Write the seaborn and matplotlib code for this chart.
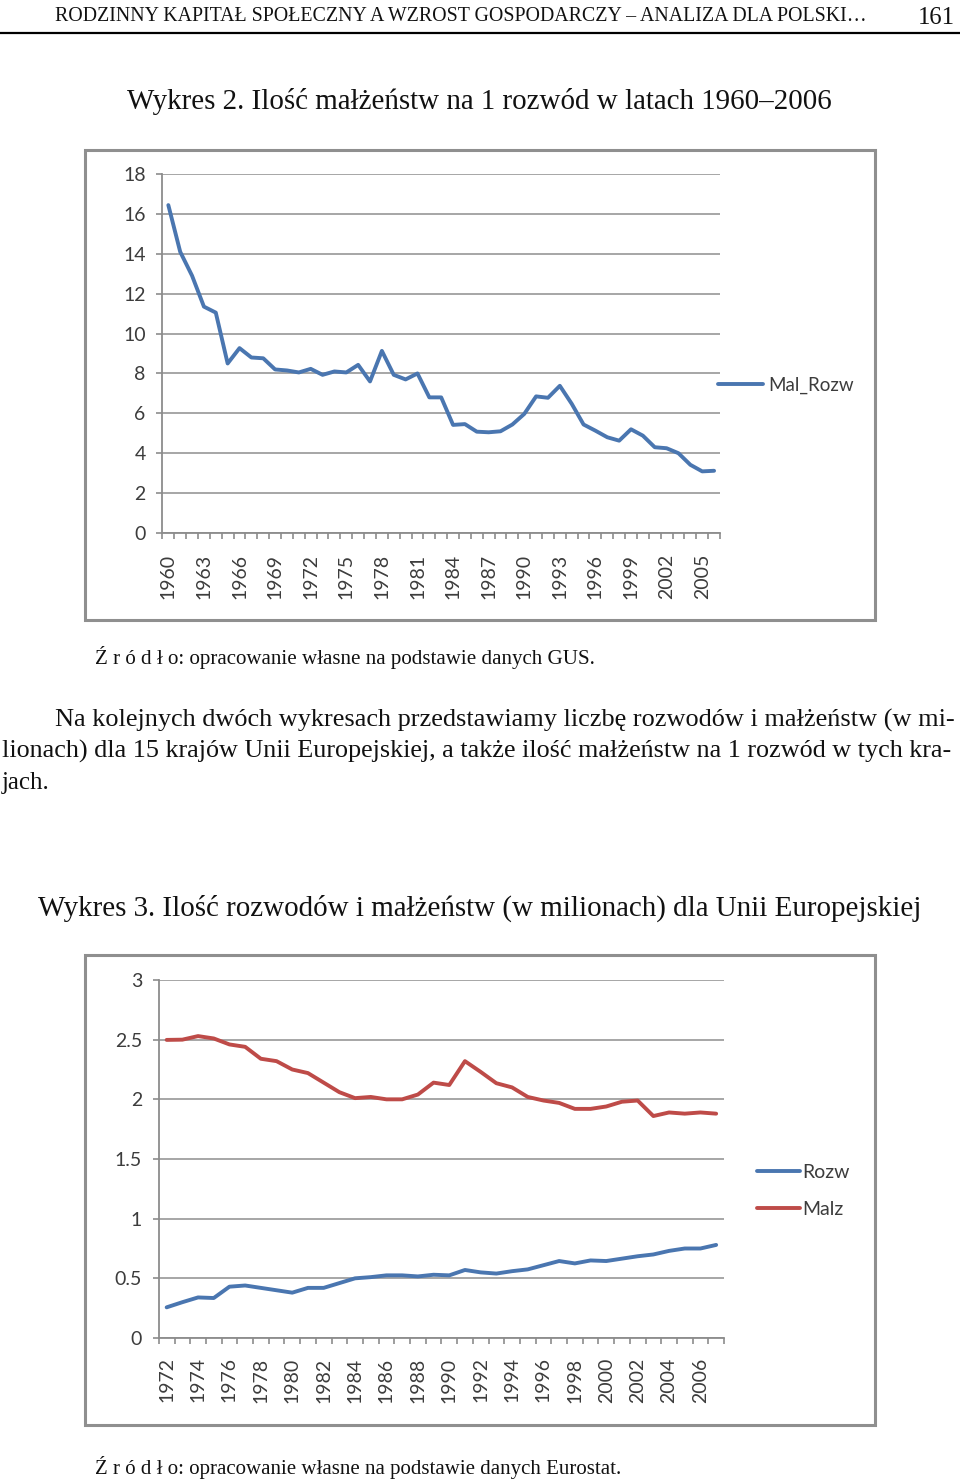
import numpy as np
import pandas as pd
import seaborn as sns
import matplotlib.pyplot as plt
from matplotlib.patches import Rectangle
from matplotlib.lines import Line2D

# Wykres 2 - malzenstwa na 1 rozwod, 1960-2006
lata1 = list(range(1960, 2007))
mal_rozw = [16.44, 14.1, 12.9, 11.35, 11.05, 8.5, 9.27, 8.8, 8.76, 8.2,
            8.15, 8.05, 8.23, 7.93, 8.1, 8.05, 8.43, 7.6, 9.13, 7.93,
            7.7, 8.0, 6.8, 6.8, 5.42, 5.46, 5.08, 5.05, 5.1, 5.44,
            5.97, 6.85, 6.78, 7.38, 6.48, 5.44, 5.13, 4.8, 4.63, 5.2,
            4.88, 4.3, 4.25, 4.0, 3.42, 3.09, 3.12]

# Wykres 3 - rozwody i malzenstwa (mln) UE, 1972-2007
lata2 = list(range(1972, 2008))
rozw = [0.257, 0.30, 0.34, 0.335, 0.43, 0.44, 0.42, 0.40, 0.38, 0.42,
        0.42, 0.46, 0.50, 0.51, 0.525, 0.525, 0.516, 0.53, 0.525, 0.57,
        0.55, 0.54, 0.56, 0.575, 0.61, 0.645, 0.625, 0.65, 0.645, 0.665,
        0.685, 0.70, 0.73, 0.75, 0.75, 0.78]
malz = [2.498, 2.50, 2.53, 2.51, 2.46, 2.44, 2.34, 2.32, 2.25, 2.22,
        2.14, 2.06, 2.01, 2.02, 2.0, 2.0, 2.04, 2.14, 2.12, 2.32,
        2.23, 2.135, 2.10, 2.02, 1.99, 1.97, 1.92, 1.92, 1.94, 1.98,
        1.99, 1.86, 1.89, 1.88, 1.89, 1.88]

sns.set_style("white")
plt.rcParams['font.family'] = ['Lato', 'DejaVu Sans']

W, H = 960, 1480
fig = plt.figure(figsize=(W / 100, H / 100), dpi=100)

BLUE = "#4a76b0"
RED = "#be4b48"
GRID = "#a6a6a6"
TXT = "#3c3c3c"
SERIF = ['Liberation Serif', 'DejaVu Serif']


def fx(px):
    return px / W


def fy(py):
    return 1 - py / H


def ptext(x, y, s, size, ha="left", width=None):
    t = fig.text(fx(x), fy(y), s, fontsize=size, family=SERIF, ha=ha,
                 va="baseline", color="#111111")
    if width is not None:
        r = fig.canvas.get_renderer()
        w = t.get_window_extent(renderer=r).width
        t.set_fontsize(size * width / w)
    return t


def style_axes(ax, ylim, yticks, ylabels, xlo, xhi, xlabels, xpad):
    ax.set_ylim(*ylim)
    ax.set_xlim(xlo - 0.5, xhi + 0.5)
    ax.set_yticks(yticks)
    ax.set_yticklabels(ylabels)
    ax.set_xticks(xlabels)
    ax.set_xticklabels([str(v) for v in xlabels], rotation=90)
    ax.set_xticks(np.arange(xlo - 0.5, xhi + 1.0, 1.0), minor=True)
    ax.grid(axis="y", color=GRID, lw=1.4)
    ax.grid(axis="x", visible=False)
    ax.set_axisbelow(True)
    for s in ["top", "right"]:
        ax.spines[s].set_visible(False)
    for s in ["left", "bottom"]:
        ax.spines[s].set_color("#8c8c8c")
        ax.spines[s].set_linewidth(1.3)
    ax.tick_params(axis="y", length=4, width=1.2, color="#8c8c8c", pad=8,
                   labelsize=14, labelcolor=TXT, left=True)
    ax.tick_params(axis="x", which="major", length=0, pad=xpad,
                   labelsize=14, labelcolor=TXT)
    ax.tick_params(axis="x", which="minor", length=4, width=1.2,
                   color="#8c8c8c", bottom=True)
    ax.set_xlabel("")
    ax.set_ylabel("")


# naglowek strony
ptext(55, 21, "RODZINNY KAPITAŁ SPOŁECZNY A WZROST GOSPODARCZY – ANALIZA DLA POLSKI…",
      14, width=815)
ptext(918, 24, "161", 19, width=37)
fig.add_artist(Line2D([0, 1], [fy(33), fy(33)], color="black", lw=1.6))

ptext(127, 109, "Wykres 2. Ilość małżeństw na 1 rozwód w latach 1960–2006", 19,
      width=705)

# ramka wykresu 2
fig.add_artist(Rectangle((fx(85), fy(620)), fx(875) - fx(85), fy(150) - fy(620),
                         fill=False, edgecolor="#8f8f8f", lw=2.2))

ax1 = fig.add_axes([fx(162.4), fy(533), fx(720) - fx(162.4), fy(174) - fy(533)])
df1 = pd.DataFrame({"rok": lata1, "Mal_Rozw": mal_rozw})
sns.lineplot(data=df1, x="rok", y="Mal_Rozw", ax=ax1, color=BLUE, lw=2.8,
             label="Mal_Rozw", errorbar=None)
style_axes(ax1, (0, 18), list(range(0, 19, 2)), [str(v) for v in range(0, 19, 2)],
           1960, 2006, list(range(1960, 2006, 3)), 15)
ax1.legend(loc="center left", bbox_to_anchor=(fx(718), fy(385)),
           bbox_transform=fig.transFigure, frameon=False, fontsize=13.5,
           handlelength=2.4, handletextpad=0.3, borderpad=0, borderaxespad=0,
           labelcolor=TXT)

ptext(95, 664, "Ź r ó d ł o: opracowanie własne na podstawie danych GUS.", 12,
      width=499)

# akapit
ptext(55, 727, "Na kolejnych dwóch wykresach przedstawiamy liczbę rozwodów i małżeństw (w mi-",
      15, width=900)
ptext(2, 758, "lionach) dla 15 krajów Unii Europejskiej, a także ilość małżeństw na 1 rozwód w tych kra-",
      15, width=953)
ptext(2, 789, "jach.", 15, width=48)

ptext(38, 916, "Wykres 3. Ilość rozwodów i małżeństw (w milionach) dla Unii Europejskiej",
      19, width=884)

# ramka wykresu 3
fig.add_artist(Rectangle((fx(85), fy(1425)), fx(875) - fx(85), fy(955) - fy(1425),
                         fill=False, edgecolor="#8f8f8f", lw=2.2))

ax2 = fig.add_axes([fx(158.8), fy(1338), fx(724) - fx(158.8), fy(980) - fy(1338)])
df2 = pd.DataFrame({
    "rok": lata2 * 2,
    "wartosc": rozw + malz,
    "seria": ["Rozw"] * len(lata2) + ["Malz"] * len(lata2),
})
sns.lineplot(data=df2, x="rok", y="wartosc", hue="seria", ax=ax2,
             palette={"Rozw": BLUE, "Malz": RED}, lw=2.8, errorbar=None)
style_axes(ax2, (0, 3), [0, 0.5, 1, 1.5, 2, 2.5, 3],
           ["0", "0.5", "1", "1.5", "2", "2.5", "3"],
           1972, 2007, list(range(1972, 2007, 2)), 14)
leg = ax2.legend(loc="center left", bbox_to_anchor=(fx(757), fy(1191)),
                 bbox_transform=fig.transFigure, frameon=False, fontsize=14,
                 handlelength=2.2, handletextpad=0.15, borderpad=0,
                 borderaxespad=0, labelspacing=1.05, labelcolor=TXT)

ptext(95, 1474, "Ź r ó d ł o: opracowanie własne na podstawie danych Eurostat.", 15,
      width=528)

fig.savefig("out.png", dpi=100)
